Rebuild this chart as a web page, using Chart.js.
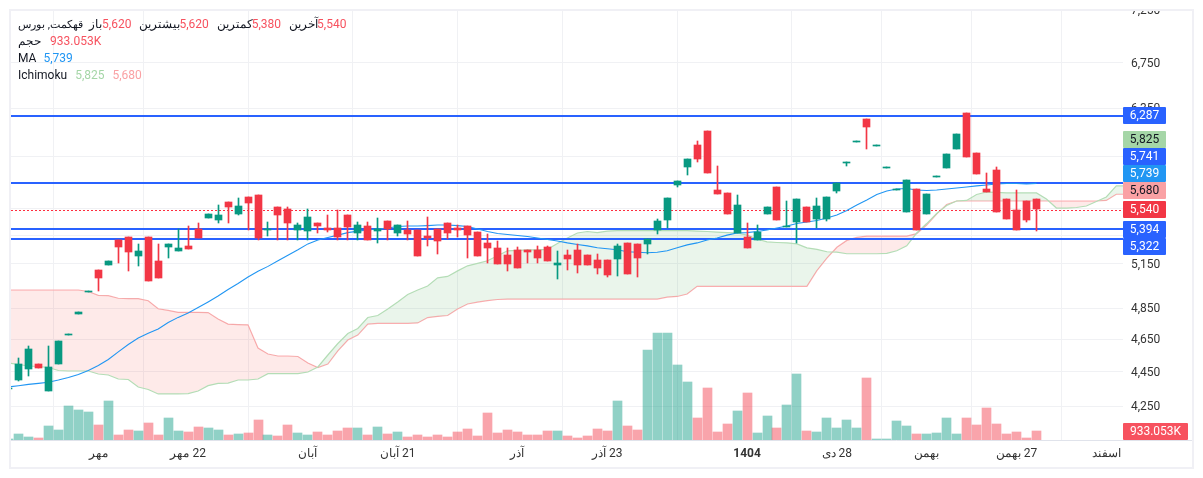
<!DOCTYPE html>
<html lang="fa">
<head>
<meta charset="utf-8">
<title>Chart</title>
<script src="https://cdn.jsdelivr.net/npm/chart.js@4/dist/chart.umd.min.js"></script>
<style>
html,body{margin:0;padding:0;background:#fff;overflow:hidden}
#wrap{position:relative;width:1203px;height:478px}
canvas{position:absolute;left:0;top:0}
#legend{position:absolute;left:18px;top:16px;font:12px Roboto,sans-serif;color:#131722;line-height:17px;white-space:nowrap;direction:ltr}
#legend .row{height:17px}
#legend .lab{display:inline-block;unicode-bidi:isolate;font-size:11.7px}
#legend .row:first-child .lab:first-child{font-size:11.4px}
#legend .en{font-size:12px}
#legend .v{margin-right:8px}
</style>
</head>
<body>
<div id="wrap">
<canvas id="c" width="1203" height="478" dir="rtl"></canvas>
<div id="legend"></div>
</div>
<script>
const candleOpen=[4349,4402,4468,4498,4337,4498,4678,4813,4958,5107,5142,5317,5338,5205,5338,5170,5268,5240,5275,5396,5477,5462,5596,5506,5634,5649,5389,5559,5544,5389,5381,5440,5403,5403,5499,5367,5418,5381,5454,5367,5389,5389,5345,5396,5440,5403,5418,5374,5296,5261,5212,5247,5247,5247,5268,5142,5212,5247,5212,5177,5177,5184,5296,5289,5289,5389,5462,5726,5868,6045,6161,5688,5665,5367,5338,5317,5506,5711,5410,5447,5559,5469,5469,5680,5900,6070,6262,6037,5860,5688,5521,5695,5506,5789,5860,6012,6313,5980,5695,5844,5619,5536,5604,5620];
const candleHigh=[4355,4534,4609,4498,4609,4640,4685,4827,4965,5107,5170,5317,5338,5289,5338,5289,5289,5396,5418,5440,5506,5574,5596,5627,5634,5649,5447,5559,5559,5440,5544,5440,5499,5536,5499,5447,5447,5477,5454,5425,5454,5389,5484,5396,5440,5425,5418,5374,5360,5310,5261,5268,5247,5275,5275,5240,5247,5289,5212,5219,5177,5289,5296,5289,5324,5469,5627,5758,5932,6078,6161,5876,5665,5649,5440,5425,5559,5711,5604,5619,5559,5627,5634,5742,5908,6078,6262,6045,5868,5695,5765,5695,5657,5797,5972,6136,6313,5980,5820,5868,5619,5688,5604,5620];
const candleLow=[4349,4396,4426,4474,4337,4498,4678,4813,4958,4965,5142,5156,5101,5135,5032,5053,5191,5240,5254,5331,5477,5440,5440,5499,5389,5317,5345,5317,5317,5317,5317,5367,5374,5317,5317,5317,5317,5296,5317,5345,5317,5205,5275,5219,5324,5338,5191,5205,5156,5149,5101,5121,5156,5156,5170,5046,5107,5087,5142,5080,5060,5066,5080,5060,5219,5360,5403,5711,5805,5908,5820,5657,5506,5367,5261,5317,5506,5462,5410,5296,5447,5403,5454,5665,5876,6070,6012,6037,5860,5688,5521,5389,5506,5789,5860,6012,5948,5813,5672,5521,5469,5389,5447,5380];
const candleClose=[4355,4498,4590,4474,4480,4640,4685,4827,4965,5053,5170,5268,5233,5240,5032,5053,5289,5261,5254,5331,5506,5499,5559,5566,5589,5331,5396,5499,5440,5425,5484,5418,5389,5338,5410,5425,5317,5396,5396,5425,5360,5205,5331,5310,5367,5389,5352,5205,5261,5149,5149,5121,5233,5191,5170,5156,5184,5142,5142,5121,5073,5275,5080,5191,5324,5454,5627,5758,5932,5932,5820,5657,5506,5574,5261,5374,5559,5462,5418,5619,5447,5566,5634,5742,5908,6078,6194,6045,5868,5695,5765,5389,5657,5797,5972,6136,5948,5813,5672,5521,5469,5389,5462,5540];
const volumeK=[104,624,312,208,1456,1040,3536,3120,2912,1560,4056,520,1040,936,1768,520,2288,936,832,1352,1248,1040,520,624,728,2080,520,416,1560,728,520,832,520,936,1248,1248,520,1352,624,832,312,520,312,520,312,832,1144,416,2808,728,1040,832,520,520,936,936,416,208,416,1144,936,4056,1456,1040,9360,11128,11128,7800,6032,2288,5408,832,1664,3016,4888,728,2496,1248,3640,6864,936,832,2288,1248,2080,1248,6448,104,104,1976,1456,624,624,728,2288,624,2288,1560,3328,1664,624,832,208,933];
const maValues=[4361,4368,4376,4382,4389,4402,4417,4435,4459,4489,4526,4572,4618,4659,4688,4716,4757,4790,4818,4854,4891,4930,4973,5014,5058,5097,5131,5170,5208,5247,5289,5317,5335,5352,5370,5381,5389,5396,5403,5414,5418,5418,5421,5425,5425,5421,5414,5396,5378,5363,5356,5349,5342,5331,5320,5310,5296,5285,5275,5261,5254,5247,5233,5230,5226,5230,5240,5261,5282,5296,5317,5331,5352,5367,5370,5378,5389,5403,5418,5436,5447,5458,5477,5499,5533,5574,5611,5653,5680,5695,5699,5688,5684,5688,5695,5703,5711,5719,5726,5734,5738,5738,5734,5739];
const spanA=[4504,4495,4486,4483,4477,4459,4456,4456,4456,4438,4432,4408,4405,4361,4346,4320,4320,4320,4322,4337,4369,4382,4384,4402,4402,4408,4440,4440,4440,4440,4450,4480,4553,4624,4687,4719,4789,4802,4844,4890,4940,4970,4997,5052,5062,5100,5135,5152,5170,5205,5240,5243,5247,5247,5250,5292,5331,5367,5378,5370,5381,5385,5385,5385,5385,5385,5385,5385,5385,5381,5378,5374,5370,5367,5352,5324,5303,5299,5296,5289,5261,5250,5233,5230,5219,5219,5219,5219,5222,5240,5275,5367,5436,5510,5570,5604,5608,5653,5672,5669,5665,5665,5665,5665,5619,5551,5551,5555,5566,5600,5634,5719,5719];
const spanB=[4970,4970,4970,4970,4970,4970,4970,4970,4960,4934,4932,4915,4913,4913,4899,4846,4835,4823,4823,4823,4821,4779,4747,4744,4742,4596,4559,4547,4547,4544,4504,4477,4498,4578,4646,4677,4747,4752,4752,4752,4752,4754,4789,4796,4802,4844,4877,4890,4900,4907,4910,4910,4910,4910,4910,4910,4910,4910,4910,4910,4910,4910,4910,4910,4910,4910,4923,4927,4943,4995,4995,4995,4995,4995,4995,4995,4995,4995,4995,4995,4995,5101,5188,5265,5314,5335,5345,5345,5345,5345,5345,5363,5425,5506,5578,5604,5604,5604,5604,5604,5604,5604,5604,5604,5604,5604,5604,5604,5604,5604,5608,5655,5655];
const levelValues=[6287,5741,5394,5322];
const lastPrice=5540;
const lastVolumeK=933.053;
const priceTicks=[7250,6750,6350,5950,5550,5350,5150,4850,4650,4450,4250];
const timeTickIndex=[9,18,30,39,51,60,74,83,92,101,110];
const timeTickLabels=['مهر','22 مهر','آبان','21 آبان','آذر','23 آذر','1404','28 دی','بهمن','27 بهمن','اسفند'];
const boldTickIndex=74;
const tagValues=[6287,5825,5741,5739,5680,5540,5394,5322];
const tagFills=['#2962ff','#a5d6a7','#2962ff','#2196f3','#faa1a4','#f23645','#2962ff','#2962ff'];
const tagInks=['#fff','#131722','#fff','#fff','#131722','#fff','#fff','#fff'];
const legendRows=[
 [['قهکمت, بورس','','',6],['باز','5,620','#f7525f',0],['بیشترین','5,620','#f7525f',-1],['کمترین','5,380','#f7525f',-1],['آخرین','5,540','#f7525f',-1]],
 [['حجم','933.053K','#f7525f',9]],
 [['MA','5,739','#2196f3',7]],
 [['Ichimoku','5,825','#a5d6a7',8],['','5,680','#faa1a4',0]]
];

const GREEN='#089981',RED='#f23645',XMIN=0.25,XMAX=111.67;
const up=candleOpen.map((o,i)=>candleClose[i]>=o);
const xy=a=>a.map((y,x)=>({x,y}));
const flat=v=>[{x:XMIN,y:v},{x:XMAX,y:v}];
const tagFont='12px Roboto, sans-serif';

document.getElementById('legend').innerHTML=legendRows.map(r=>'<div class="row">'+r.map(p=>
 (p[0]?'<span class="lab'+(/[A-Za-z]/.test(p[0])?' en':'')+'" dir="rtl" style="margin-right:'+p[3]+'px">'+p[0]+'</span>':'')+
 (p[1]?'<span class="v" style="color:'+p[2]+'">'+p[1]+'</span>':'')).join('')+'</div>').join('');

const snap={id:'snap',afterDatasetUpdate(chart,args){
 const ds=chart.data.datasets[args.index],meta=chart.getDatasetMeta(args.index);
 if(ds.type==='bar'){meta.data.forEach(e=>{e.x=Math.floor(e.x)+0.5;e.y=Math.round(e.y);e.base=Math.round(e.base);
   if(Math.abs(e.base-e.y)<1)e.y=e.base-1;});}
 if(ds.snapLine){meta.data.forEach(e=>{e.y=ds.borderWidth%2?Math.ceil(e.y)+0.5:Math.round(e.y);});}
}};

const tags={id:'tags',afterDraw(chart){
 const c=chart.ctx,ys=chart.scales.y,yv=chart.scales.yv,a=chart.chartArea,H=17;
 c.save();c.direction='ltr';
 c.fillStyle='#fff';c.fillRect(0,0,1203,10);
 c.strokeStyle='#e0e3eb';c.lineWidth=1;c.beginPath();c.moveTo(a.left,a.bottom+0.5);c.lineTo(1192,a.bottom+0.5);c.stroke();
 c.strokeStyle='#f0f0f5';c.lineWidth=2;c.strokeRect(10,10,1183,458);
 const want=tagValues.map(v=>ys.getPixelForValue(v));
 const pivot=tagValues.indexOf(5680),pos=want.slice();
 for(let i=pivot-1;i>=0;i--)pos[i]=Math.min(want[i],pos[i+1]-H);
 for(let i=pivot+1;i<pos.length;i++)pos[i]=Math.max(want[i],pos[i-1]+H);
 c.font=tagFont;c.textAlign='center';c.textBaseline='middle';
 const tag=(yc,w,fill,ink,text)=>{const t=Math.round(yc-H/2);
  c.fillStyle=fill;c.beginPath();c.roundRect(a.right,t,w,H,1);c.fill();
  c.fillStyle=ink;c.fillText(text,a.right+w/2,t+H/2+0.5);};
 tagValues.forEach((v,i)=>tag(pos[i],43,tagFills[i],tagInks[i],v.toLocaleString('en-US')));
 tag(yv.getPixelForValue(lastVolumeK),65,'#f7525f','#fff',lastVolumeK.toFixed(3)+'K');
 c.restore();
}};

new Chart(document.getElementById('c'),{
 data:{datasets:[
  {type:'bar',label:'body',order:0,grouped:false,barThickness:7,yAxisID:'y',data:candleOpen.map((o,x)=>({x,y:[o,candleClose[x]]})),backgroundColor:up.map(u=>u?GREEN:RED)},
  {type:'bar',label:'wick',order:1,grouped:false,barThickness:1,yAxisID:'y',data:candleLow.map((l,x)=>({x,y:[l,candleHigh[x]]})),backgroundColor:up.map(u=>u?GREEN:RED)},
  {type:'line',label:'MA',order:2,data:xy(maValues),borderColor:'#2196f3',borderWidth:1.1,pointRadius:0,tension:0,yAxisID:'y'},
  ...levelValues.map(v=>({type:'line',label:'level',order:3,snapLine:true,data:flat(v),borderColor:'#2962ff',borderWidth:2,pointRadius:0,yAxisID:'y'})),
  {type:'line',label:'last',order:3,snapLine:true,data:flat(lastPrice),borderColor:'#ff2d3f',borderWidth:1,borderDash:[2,2],pointRadius:0,yAxisID:'y'},
  {type:'line',label:'Span A',order:4,data:xy(spanA),borderColor:'#b4ddb6',borderWidth:1.2,pointRadius:0,tension:0,yAxisID:'y',
   fill:{target:'+1',above:'rgba(67,160,71,0.11)',below:'rgba(244,67,54,0.11)'}},
  {type:'line',label:'Span B',order:5,data:xy(spanB),borderColor:'#fbb0b3',borderWidth:1.2,pointRadius:0,tension:0,yAxisID:'y'},
  {type:'bar',label:'volume',order:6,grouped:false,barThickness:9,yAxisID:'yv',data:xy(volumeK),backgroundColor:up.map(u=>u?'rgba(8,153,129,0.45)':'rgba(242,54,69,0.45)')}
 ]},
 options:{
  responsive:false,animation:false,devicePixelRatio:1,
  layout:{padding:{left:11,top:10,right:10,bottom:11}},
  plugins:{legend:{display:false},tooltip:{enabled:false}},
  scales:{
   x:{type:'linear',min:XMIN,max:XMAX,offset:false,
    grid:{color:'#f0f1f4',drawTicks:false},border:{display:false},
    afterBuildTicks(s){s.ticks=timeTickIndex.map(v=>({value:v}));},
    afterFit(s){s.height=27;s.paddingLeft=0;s.paddingRight=0;},
    ticks:{autoSkip:false,maxRotation:0,padding:7,color:'#333',
     font:c=>({family:'Roboto, sans-serif',size:12,weight:c.tick&&c.tick.value===boldTickIndex?'bold':'normal'}),
     callback:v=>timeTickLabels[timeTickIndex.indexOf(v)]}},
   y:{type:'logarithmic',position:'right',min:4060,max:7250,bounds:'data',
    grid:{color:'#f0f1f4',drawTicks:false},border:{display:false},
    afterBuildTicks(s){s.ticks=priceTicks.map(v=>({value:v}));},
    afterFit(s){s.width=70;s.paddingTop=0;s.paddingBottom=0;},
    ticks:{autoSkip:false,padding:8,labelOffset:1,color:'#333',font:{family:'Roboto, sans-serif',size:12},
     callback:v=>Number(v).toLocaleString('en-US')}},
   yv:{type:'linear',display:false,min:0,max:44720}
  }
 },
 plugins:[snap,tags]
});
</script>
</body>
</html>
